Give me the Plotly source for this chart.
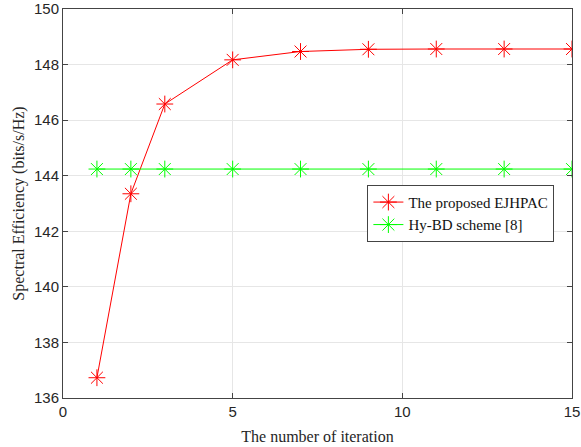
import plotly.graph_objects as go

iterations = [1, 2, 3, 5, 7, 9, 11, 13, 15]
proposed = [136.73, 143.35, 146.58, 148.17, 148.47, 148.55, 148.56, 148.56, 148.56]
hybd = [144.24] * 9
names = ["The proposed EJHPAC", "Hy-BD scheme [8]"]

fig = go.Figure()
fig.add_trace(go.Scatter(x=iterations, y=proposed, name=names[0], mode="lines+markers",
                         line=dict(color="#FF0000", width=1),
                         marker=dict(symbol="asterisk-open", size=14, color="#FF0000",
                                     line=dict(color="#FF0000", width=1))))
fig.add_trace(go.Scatter(x=iterations, y=hybd, name=names[1], mode="lines+markers",
                         line=dict(color="#00FF00", width=1),
                         marker=dict(symbol="asterisk-open", size=14, color="#00FF00",
                                     line=dict(color="#00FF00", width=1))))

axis_common = dict(showline=True, linecolor="#444444", linewidth=1, mirror="ticks",
                   ticks="inside", ticklen=5, tickcolor="#444444", automargin=False,
                   showgrid=True, gridcolor="#E6E6E6", gridwidth=1, zeroline=False,
                   tickfont=dict(family="Liberation Sans, Arial", size=15, color="#262626"))

fig.update_xaxes(range=[0, 15], tickvals=[0, 5, 10, 15], **axis_common,
                 title=dict(text="The number of iteration", standoff=11,
                            font=dict(family="Liberation Serif, Times New Roman", size=16, color="#262626")))
fig.update_yaxes(range=[136, 150], tickvals=list(range(136, 151, 2)), **axis_common,
                 title=dict(text="Spectral Efficiency (bits/s/Hz)", standoff=5,
                            font=dict(family="Liberation Serif, Times New Roman", size=16, color="#262626")))

fig.update_layout(width=581, height=447, margin=dict(l=63, r=9, t=9, b=49),
                  plot_bgcolor="white", paper_bgcolor="white",
                  legend=dict(x=0.598, y=0.548, xanchor="left", yanchor="top",
                              bordercolor="#444444", borderwidth=1, bgcolor="white",
                              font=dict(family="Liberation Serif, Times New Roman", size=15, color="#111111"),
                              tracegroupgap=0, itemwidth=30))

fig.write_html("out.html")
